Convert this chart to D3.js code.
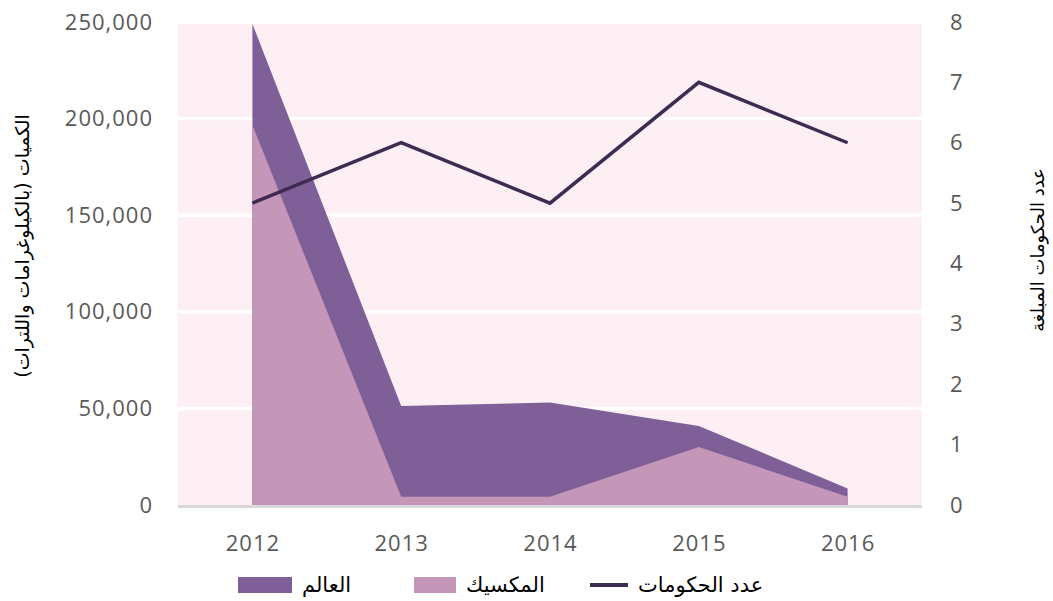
<!DOCTYPE html>
<html>
<head>
<meta charset="utf-8">
<script src="https://cdn.jsdelivr.net/npm/d3@7"></script>
<style>
  body { margin: 0; background: #fff; }
  .tick-label { font-family: "Open Sans", "DejaVu Sans", sans-serif; font-size: 22px; fill: #595959; letter-spacing: 1px; }
  .ar { font-family: "DejaVu Sans", sans-serif; fill: #000; }
</style>
</head>
<body>
<div id="chart"></div>
<script>
// Données
const years = ["2012", "2013", "2014", "2015", "2016"];
const worldQty = [249000, 51200, 53100, 40900, 8600];     // العالم
const mexicoQty = [196700, 4300, 4300, 30000, 4300];      // المكسيك
const govCount = [5, 6, 5, 7, 6];                         // عدد الحكومات
const leftTicks = [0, 50000, 100000, 150000, 200000, 250000];
const rightTicks = [0, 1, 2, 3, 4, 5, 6, 7, 8];

const width = 1053, height = 601;
const plot = { left: 178, right: 922, top: 22, bottom: 505 };

const svg = d3.select("#chart").append("svg")
    .attr("width", width)
    .attr("height", height);

// Échelles
const x = d3.scalePoint().domain(years).range([plot.left, plot.right]).padding(0.5);
const yL = d3.scaleLinear().domain([0, 250000]).range([plot.bottom, plot.top]);
const yR = d3.scaleLinear().domain([0, 8]).range([plot.bottom, plot.top]);

// Fond rose
svg.append("rect")
    .attr("x", plot.left).attr("y", plot.top)
    .attr("width", plot.right - plot.left)
    .attr("height", plot.bottom - plot.top)
    .attr("fill", "#fdeff4");

// Grille blanche
svg.selectAll(".grid")
    .data(leftTicks.filter(d => d > 0))
    .enter().append("line")
    .attr("x1", plot.left).attr("x2", plot.right)
    .attr("y1", d => yL(d)).attr("y2", d => yL(d))
    .attr("stroke", "#fff")
    .attr("stroke-width", 3.5);

// Aires (superposées, le monde derrière)
const area = vals => d3.area()
    .x((d, i) => x(years[i]))
    .y0(yL(0))
    .y1(d => yL(d))(vals);

svg.append("path").attr("d", area(worldQty)).attr("fill", "#7f5f97");
svg.append("path").attr("d", area(mexicoQty)).attr("fill", "#c497b8");

// Ligne de base
svg.append("line")
    .attr("x1", plot.left).attr("x2", plot.right)
    .attr("y1", plot.bottom + 1.5).attr("y2", plot.bottom + 1.5)
    .attr("stroke", "#d9d9d9")
    .attr("stroke-width", 3);

// Ligne: nombre de gouvernements
svg.append("path")
    .datum(govCount)
    .attr("d", d3.line().x((d, i) => x(years[i])).y(d => yR(d)))
    .attr("fill", "none")
    .attr("stroke", "#3d2b52")
    .attr("stroke-width", 3.5);

// Axes (textes seulement)
const axisL = svg.append("g").attr("transform", `translate(${plot.left - 25},0)`)
    .call(d3.axisLeft(yL).tickValues(leftTicks).tickSize(0).tickPadding(0).tickFormat(d3.format(",")));
const axisR = svg.append("g").attr("transform", `translate(${plot.right + 28},0)`)
    .call(d3.axisRight(yR).tickValues(rightTicks).tickSize(0).tickPadding(0));
const axisX = svg.append("g").attr("transform", `translate(0,${plot.bottom + 24})`)
    .call(d3.axisBottom(x).tickSize(0).tickPadding(0));

[axisL, axisR, axisX].forEach(g => {
    g.select(".domain").remove();
    g.selectAll("text").attr("class", "tick-label").attr("fill", null).style("font", null);
});
axisX.selectAll("text").attr("dy", "1em");

// Titres des axes
svg.append("text")
    .attr("class", "ar")
    .attr("transform", "translate(22,246) rotate(-90)")
    .attr("text-anchor", "middle")
    .attr("dominant-baseline", "central")
    .style("font-size", "19px")
    .text("الكميات (بالكيلوغرامات واللترات)");

svg.append("text")
    .attr("class", "ar")
    .attr("transform", "translate(1037,250) rotate(-90)")
    .attr("text-anchor", "middle")
    .attr("dominant-baseline", "central")
    .style("font-size", "18px")
    .text("عدد الحكومات المبلغة");

// Légende
const legendY = 585;
const legend = [
    { label: "العالم", color: "#7f5f97", type: "area", x0: 238, w: 54 },
    { label: "المكسيك", color: "#c497b8", type: "area", x0: 414, w: 42 },
    { label: "عدد الحكومات", color: "#3d2b52", type: "line", x0: 590, w: 38 }
];
legend.forEach(l => {
    if (l.type === "area") {
        svg.append("rect").attr("x", l.x0).attr("y", legendY - 8)
            .attr("width", l.w).attr("height", 16).attr("fill", l.color);
    } else {
        svg.append("line").attr("x1", l.x0).attr("x2", l.x0 + l.w)
            .attr("y1", legendY).attr("y2", legendY)
            .attr("stroke", l.color).attr("stroke-width", 4);
    }
    svg.append("text")
        .attr("class", "ar")
        .attr("x", l.x0 + l.w + 10)
        .attr("y", legendY)
        .attr("dominant-baseline", "central")
        .attr("text-anchor", "start")
        .style("font-size", "21px")
        .text(l.label);
});
</script>
</body>
</html>
